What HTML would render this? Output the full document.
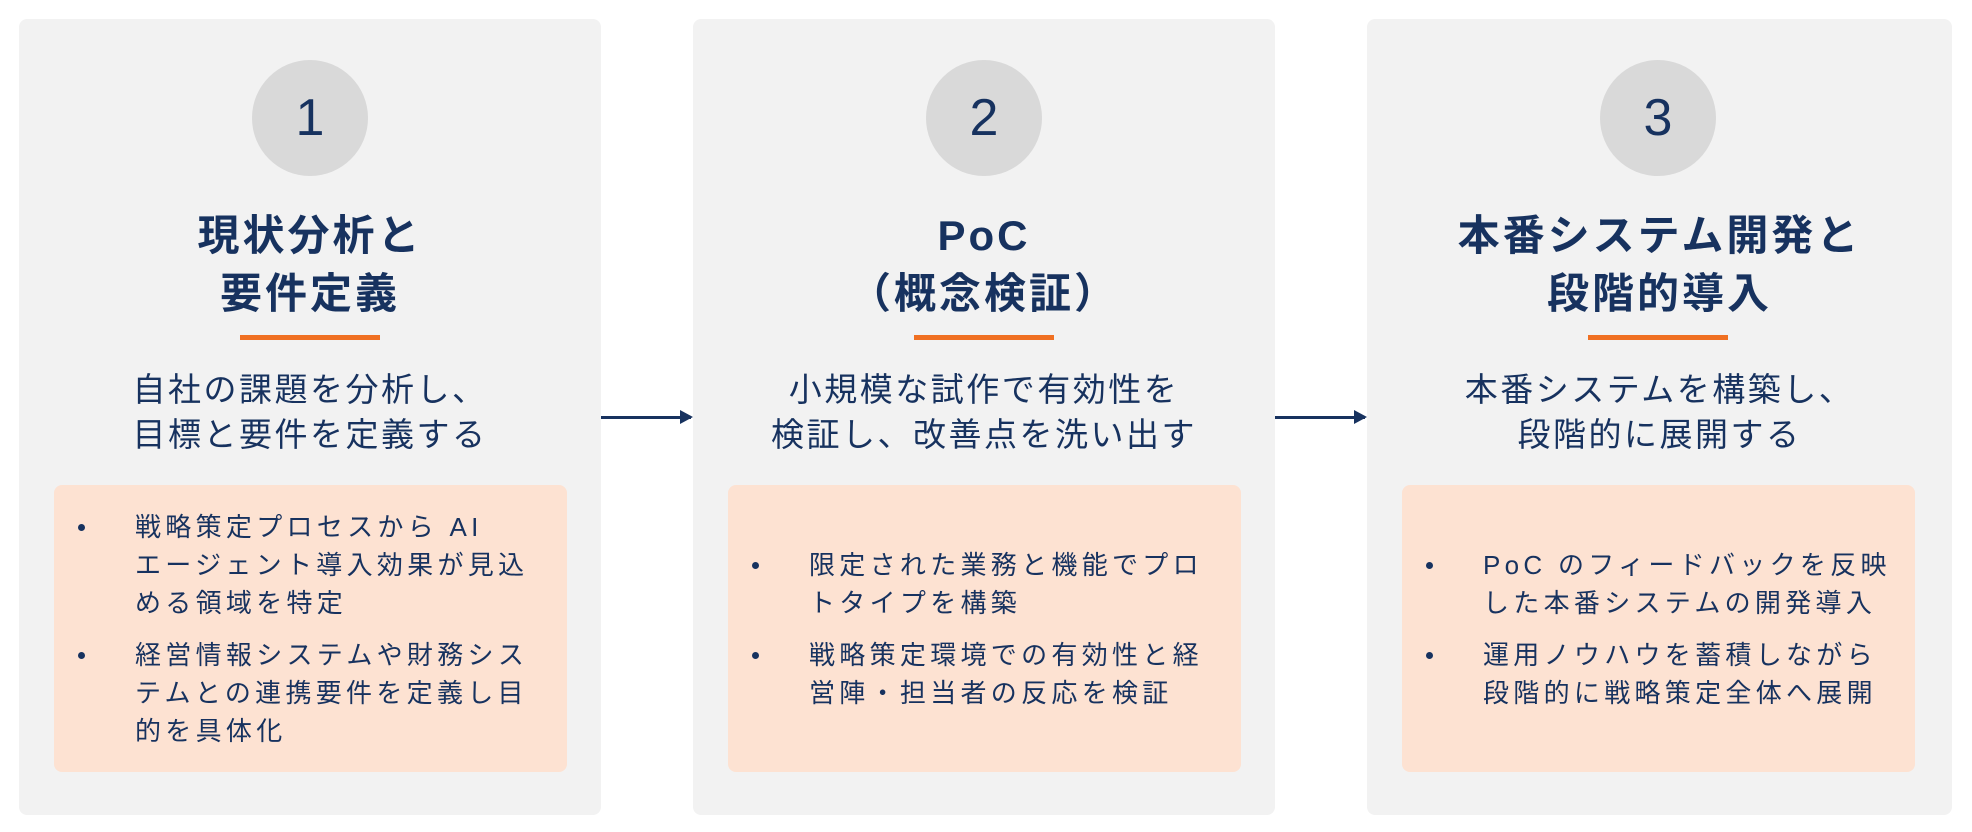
<!DOCTYPE html>
<html><head><meta charset="utf-8"><style>
*{margin:0;padding:0;box-sizing:border-box}
body{width:1972px;height:832px;background:#fff;position:relative;overflow:hidden;font-family:"Liberation Sans","Noto Sans CJK JP",sans-serif;color:#17325f}
.card{position:absolute;top:19px;width:582px;height:796px;background:#f2f2f2;border-radius:8px}
.circ{position:absolute;left:233px;top:41px;width:116px;height:116px;border-radius:50%;background:#d9d9d9;text-align:center;line-height:116px;font-size:52px;color:#17325f}
.title{position:absolute;left:0;right:0;top:188px;text-align:center;font-weight:bold;font-size:42px;line-height:58px;letter-spacing:3px}
.bar{position:absolute;left:221px;top:316px;width:140px;height:5px;background:#f07022}
.sub{position:absolute;left:-20px;right:-20px;top:348px;text-align:center;font-size:33px;line-height:45px;letter-spacing:2.5px;white-space:nowrap}
.box{position:absolute;left:35px;top:466px;width:513px;height:287px;background:#fde2d2;border-radius:8px;display:flex;flex-direction:column;justify-content:center}
.li{position:relative;padding-left:81px;font-size:26px;line-height:38px;letter-spacing:4.3px;margin:7px 0;white-space:nowrap}
.li:before{content:"";position:absolute;left:24px;top:16px;width:7px;height:7px;border-radius:50%;background:#17325f}
.arrow{position:absolute;top:416px;height:3px;background:#17325f}
.arrow:after{content:"";position:absolute;right:-2px;top:-6px;border-left:13px solid #17325f;border-top:7.5px solid transparent;border-bottom:7.5px solid transparent}
</style></head><body>
<div class="card" style="left:19px">
<div class="circ">1</div>
<div class="title">現状分析と<br>要件定義</div>
<div class="bar"></div>
<div class="sub">自社の課題を分析し、<br>目標と要件を定義する</div>
<div class="box">
<div class="li">戦略策定プロセスから AI<br>エージェント導入効果が見込<br>める領域を特定</div>
<div class="li">経営情報システムや財務シス<br>テムとの連携要件を定義し目<br>的を具体化</div>
</div></div>
<div class="arrow" style="left:601px;width:90px"></div>
<div class="card" style="left:693px">
<div class="circ">2</div>
<div class="title">PoC<br>（概念検証）</div>
<div class="bar"></div>
<div class="sub">小規模な試作で有効性を<br>検証し、改善点を洗い出す</div>
<div class="box">
<div class="li">限定された業務と機能でプロ<br>トタイプを構築</div>
<div class="li">戦略策定環境での有効性と経<br>営陣・担当者の反応を検証</div>
</div></div>
<div class="arrow" style="left:1275px;width:90px"></div>
<div class="card" style="left:1367px;width:585px">
<div class="circ">3</div>
<div class="title">本番システム開発と<br>段階的導入</div>
<div class="bar"></div>
<div class="sub">本番システムを構築し、<br>段階的に展開する</div>
<div class="box">
<div class="li">PoC のフィードバックを反映<br>した本番システムの開発導入</div>
<div class="li">運用ノウハウを蓄積しながら<br>段階的に戦略策定全体へ展開</div>
</div></div>
</body></html>
